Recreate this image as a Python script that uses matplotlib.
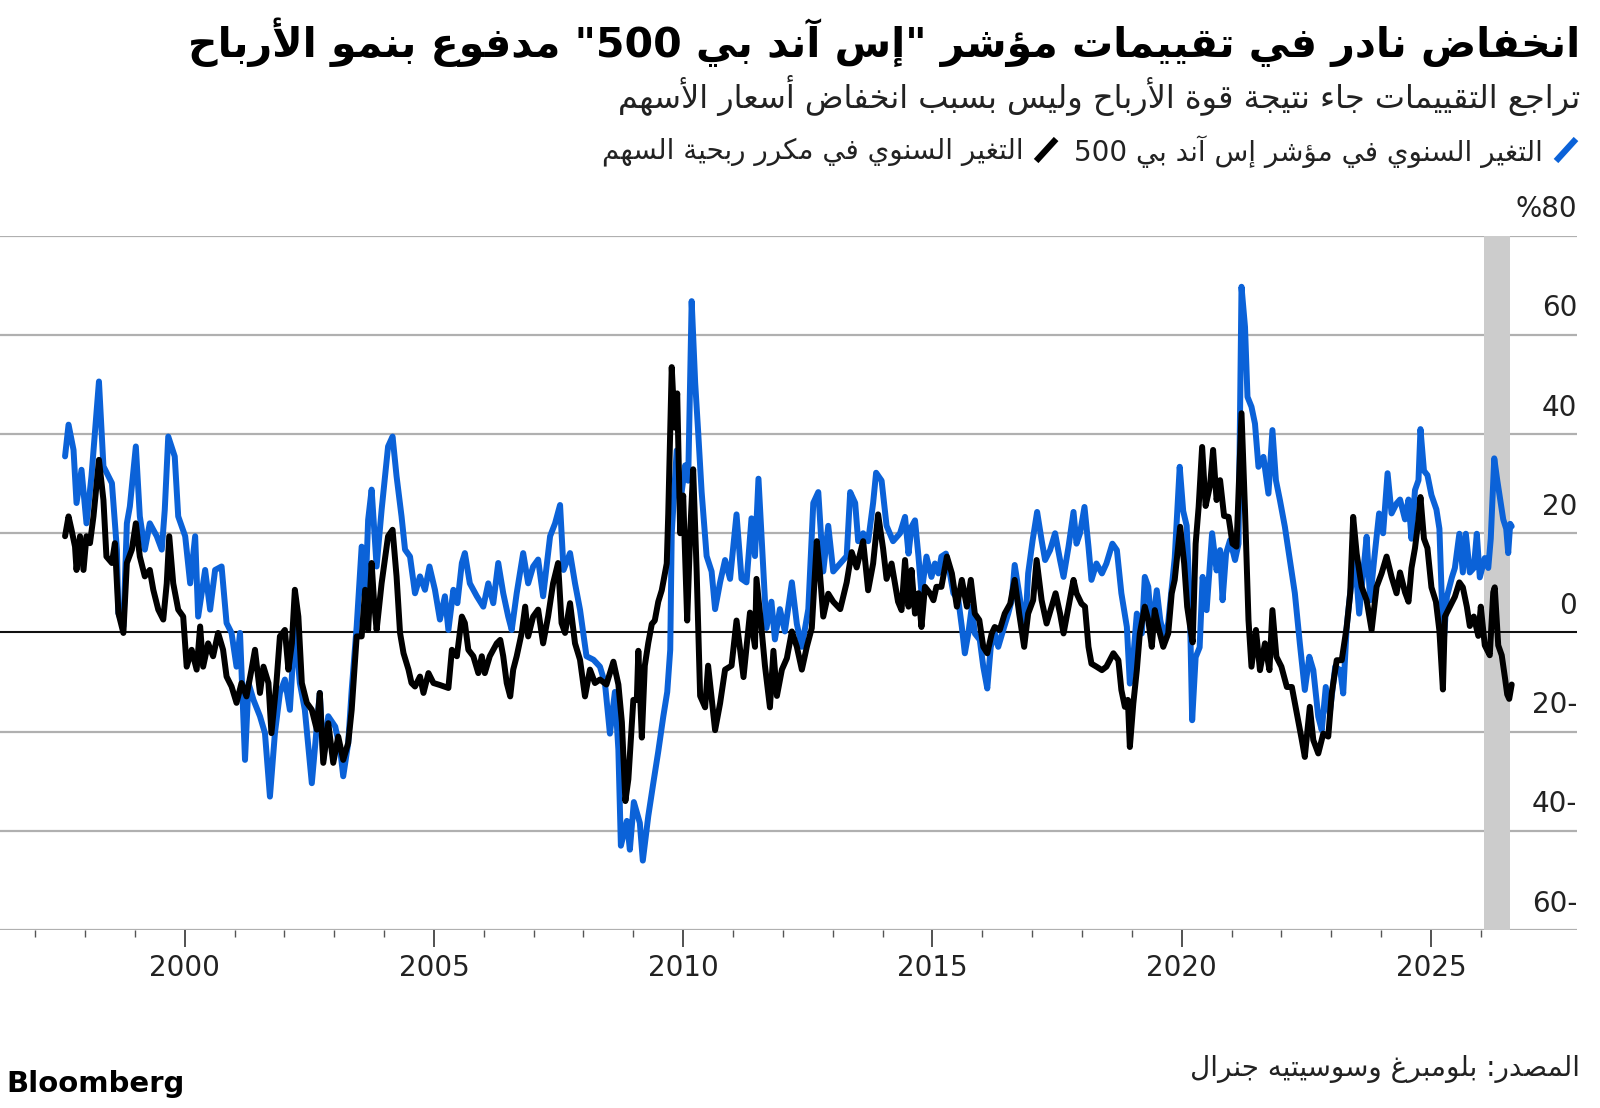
import matplotlib
matplotlib.use("Agg")
import matplotlib.pyplot as plt
from matplotlib.lines import Line2D

# ---- data ----
blue_x = [1997.60, 1997.67, 1997.77, 1997.83, 1997.93, 1998.03, 1998.13, 1998.28, 1998.37, 1998.54,
          1998.64, 1998.67, 1998.77, 1998.84, 1998.90, 1999.02, 1999.10, 1999.20, 1999.30, 1999.44,
          1999.54, 1999.60, 1999.67, 1999.80, 1999.87, 2000.01, 2000.11, 2000.21, 2000.27, 2000.41,
          2000.51, 2000.61, 2000.74, 2000.84, 2000.94, 2001.04, 2001.11, 2001.21, 2001.28, 2001.38,
          2001.51, 2001.61, 2001.71, 2001.81, 2001.91, 2002.01, 2002.11, 2002.21, 2002.31, 2002.41,
          2002.55, 2002.65, 2002.71, 2002.78, 2002.88, 2003.02, 2003.12, 2003.18, 2003.28, 2003.35,
          2003.45, 2003.55, 2003.62, 2003.68, 2003.75, 2003.85, 2003.95, 2004.08, 2004.17, 2004.25,
          2004.35, 2004.42, 2004.52, 2004.62, 2004.72, 2004.82, 2004.91, 2005.02, 2005.12, 2005.22,
          2005.29, 2005.39, 2005.47, 2005.56, 2005.62, 2005.72, 2005.86, 2005.99, 2006.09, 2006.19,
          2006.29, 2006.39, 2006.49, 2006.56, 2006.66, 2006.79, 2006.89, 2006.99, 2007.09, 2007.19,
          2007.33, 2007.43, 2007.53, 2007.60, 2007.73, 2007.83, 2007.93, 2008.06, 2008.20, 2008.33,
          2008.43, 2008.53, 2008.63, 2008.70, 2008.75, 2008.87, 2008.93, 2009.01, 2009.13, 2009.19,
          2009.30, 2009.40, 2009.50, 2009.60, 2009.68, 2009.74, 2009.77, 2009.87, 2009.94, 2010.04,
          2010.10, 2010.17, 2010.24, 2010.30, 2010.37, 2010.47, 2010.57, 2010.64, 2010.74, 2010.84,
          2010.94, 2011.07, 2011.17, 2011.27, 2011.37, 2011.44, 2011.51, 2011.61, 2011.67, 2011.77,
          2011.84, 2011.94, 2012.04, 2012.18, 2012.28, 2012.38, 2012.51, 2012.61, 2012.71, 2012.81,
          2012.91, 2013.01, 2013.15, 2013.28, 2013.35, 2013.45, 2013.51, 2013.61, 2013.71, 2013.81,
          2013.87, 2013.98, 2014.08, 2014.21, 2014.35, 2014.45, 2014.52, 2014.58, 2014.65, 2014.72,
          2014.78, 2014.88, 2014.98, 2015.05, 2015.12, 2015.18, 2015.27, 2015.35, 2015.42, 2015.52,
          2015.59, 2015.65, 2015.72, 2015.79, 2015.85, 2015.95, 2016.02, 2016.10, 2016.17, 2016.25,
          2016.32, 2016.42, 2016.52, 2016.59, 2016.65, 2016.76, 2016.86, 2016.92, 2017.01, 2017.10,
          2017.19, 2017.26, 2017.36, 2017.46, 2017.56, 2017.63, 2017.73, 2017.83, 2017.89, 2017.96,
          2018.05, 2018.13, 2018.19, 2018.29, 2018.40, 2018.49, 2018.61, 2018.70, 2018.79, 2018.90,
          2018.96, 2019.03, 2019.10, 2019.20, 2019.26, 2019.33, 2019.40, 2019.50, 2019.57, 2019.65,
          2019.73, 2019.80, 2019.86, 2019.96, 2020.03, 2020.10, 2020.16, 2020.21, 2020.28, 2020.36,
          2020.42, 2020.50, 2020.61, 2020.70, 2020.77, 2020.82, 2020.89, 2020.97, 2021.07, 2021.14,
          2021.20, 2021.27, 2021.32, 2021.40, 2021.47, 2021.54, 2021.64, 2021.74, 2021.82, 2021.89,
          2021.97, 2022.07, 2022.17, 2022.27, 2022.37, 2022.47, 2022.56, 2022.64, 2022.74, 2022.81,
          2022.89, 2022.97, 2023.08, 2023.18, 2023.24, 2023.31, 2023.38, 2023.48, 2023.56, 2023.64,
          2023.71, 2023.78, 2023.86, 2023.96, 2024.04, 2024.13, 2024.21, 2024.31, 2024.38, 2024.48,
          2024.55, 2024.61, 2024.68, 2024.75, 2024.79, 2024.86, 2024.93, 2025.01, 2025.11, 2025.17,
          2025.25, 2025.32, 2025.42, 2025.48, 2025.57, 2025.64, 2025.70, 2025.78, 2025.86, 2025.92,
          2025.98, 2026.08, 2026.15, 2026.20, 2026.27, 2026.33, 2026.39, 2026.45, 2026.51, 2026.55,
          2026.59, 2026.62]
blue_y = [35.5, 41.9, 36.8, 26.1, 32.8, 22.0, 31.5, 50.6, 33.5, 30.1,
          16.7, 3.9, 1.2, 22.0, 25.4, 37.5, 23.4, 16.7, 22.0, 19.4,
          16.7, 24.7, 39.5, 35.5, 23.4, 19.4, 9.9, 19.4, 3.2, 12.6,
          4.6, 12.6, 13.3, 1.9, -0.1, -6.9, -0.1, -25.7, -10.2, -13.6,
          -16.9, -20.3, -33.1, -20.3, -12.2, -9.5, -15.6, 1.2, -10.2, -15.6,
          -30.4, -19.0, -12.2, -25.7, -16.9, -19.0, -23.7, -29.0, -22.3, -11.6,
          1.2, 17.3, 5.9, 22.7, 28.8, 13.3, 24.7, 37.5, 39.5, 31.5,
          23.4, 16.7, 15.3, 7.9, 11.3, 8.6, 13.3, 8.6, 2.6, 7.3,
          0.5, 8.6, 5.9, 14.0, 16.0, 9.9, 7.3, 5.2, 9.9, 5.9,
          14.0, 7.9, 3.2, 0.5, 7.9, 16.0, 9.9, 13.3, 14.7, 7.3,
          19.4, 22.0, 25.7, 12.6, 16.0, 9.9, 4.6, -4.8, -5.5, -6.9,
          -10.2, -20.4, -12.0, -23.7, -43.0, -38.0, -43.8, -34.2, -38.4, -46.0,
          -37.0, -30.4, -24.0, -17.0, -12.0, -3.5, 20.0, 36.7, 26.1, 33.7,
          30.6, 66.8, 50.4, 40.5, 28.3, 15.4, 12.3, 4.7, 10.1, 14.6,
          10.8, 23.8, 10.8, 10.1, 23.0, 15.4, 31.0, 12.3, 0.9, 6.2,
          -1.4, 4.7, 0.2, 10.1, 1.7, -2.9, 4.7, 26.1, 28.3, 12.3,
          21.5, 12.3, 13.9, 15.4, 28.3, 26.1, 18.4, 20.0, 18.4, 26.1,
          32.2, 30.6, 21.5, 18.4, 20.0, 23.3, 15.9, 21.3, 22.6, 15.3,
          7.9, 15.3, 11.2, 13.9, 11.9, 15.3, 15.9, 11.9, 7.9, 6.5,
          1.1, -4.2, -0.2, 5.2, -0.2, -1.5, -6.9, -11.3, -2.9, -0.2,
          -2.9, 0.5, 3.8, 6.5, 13.6, 6.5, 0.5, 11.9, 18.6, 24.3,
          18.6, 14.6, 16.6, 20.0, 14.6, 11.2, 17.3, 24.3, 17.9, 20.0,
          25.3, 17.3, 10.6, 13.9, 11.9, 13.9, 17.9, 16.6, 7.9, 1.1,
          -10.3, -4.9, 3.8, -0.2, 11.2, 9.2, -0.2, 8.5, 2.5, -1.2,
          2.0, 9.0, 15.0, 33.4, 24.5, 21.5, 7.0, -17.7, -5.0, -3.0,
          11.2, 4.5, 20.0, 12.5, 16.6, 6.5, 15.9, 18.6, 14.6, 17.9,
          69.7, 61.6, 47.5, 45.5, 42.1, 33.4, 35.4, 28.0, 40.8, 30.7,
          26.7, 21.3, 14.6, 7.9, -2.2, -11.6, -4.9, -7.6, -17.0, -19.7,
          -11.0, -16.3, -6.9, -7.6, -12.3, 1.1, 7.9, 14.6, 3.8, 11.9,
          19.3, 6.5, 14.6, 24.0, 20.0, 32.1, 24.0, 26.0, 26.8, 22.8,
          26.8, 18.9, 28.7, 30.7, 41.0, 32.6, 31.7, 27.7, 24.8, 20.9,
          -2.6, 7.2, 11.1, 13.0, 19.9, 12.1, 19.9, 12.1, 13.0, 19.9,
          11.1, 15.0, 13.0, 18.9, 35.1, 30.7, 26.8, 22.8, 20.9, 16.0,
          21.9, 21.4]

black_x = [1997.60, 1997.67, 1997.73, 1997.80, 1997.83, 1997.90, 1997.97, 1998.03, 1998.10, 1998.17,
           1998.28, 1998.37, 1998.43, 1998.54, 1998.60, 1998.67, 1998.77, 1998.84, 1998.94, 1999.02,
           1999.10, 1999.20, 1999.30, 1999.37, 1999.47, 1999.57, 1999.64, 1999.69, 1999.77, 1999.87,
           1999.97, 2000.04, 2000.14, 2000.24, 2000.31, 2000.37, 2000.47, 2000.57, 2000.67, 2000.77,
           2000.84, 2000.94, 2001.04, 2001.14, 2001.24, 2001.34, 2001.41, 2001.51, 2001.58, 2001.68,
           2001.74, 2001.84, 2001.91, 2002.01, 2002.08, 2002.15, 2002.21, 2002.28, 2002.35, 2002.45,
           2002.55, 2002.65, 2002.71, 2002.78, 2002.88, 2002.98, 2003.08, 2003.18, 2003.28, 2003.35,
           2003.45, 2003.55, 2003.62, 2003.68, 2003.75, 2003.80, 2003.85, 2003.95, 2004.08, 2004.17,
           2004.25, 2004.32, 2004.39, 2004.49, 2004.55, 2004.62, 2004.72, 2004.79, 2004.89, 2004.99,
           2005.12, 2005.29, 2005.36, 2005.46, 2005.56, 2005.62, 2005.69, 2005.79, 2005.89, 2005.96,
           2006.02, 2006.12, 2006.26, 2006.33, 2006.39, 2006.46, 2006.53, 2006.59, 2006.66, 2006.76,
           2006.83, 2006.89, 2006.99, 2007.09, 2007.19, 2007.29, 2007.39, 2007.49, 2007.56, 2007.63,
           2007.73, 2007.83, 2007.93, 2008.03, 2008.13, 2008.23, 2008.33, 2008.46, 2008.60, 2008.70,
           2008.77, 2008.84, 2008.90, 2009.00, 2009.07, 2009.10, 2009.17, 2009.23, 2009.30, 2009.37,
           2009.43, 2009.50, 2009.57, 2009.67, 2009.70, 2009.77, 2009.83, 2009.88, 2009.94, 2010.00,
           2010.08, 2010.14, 2010.20, 2010.27, 2010.34, 2010.44, 2010.50, 2010.64, 2010.74, 2010.84,
           2010.97, 2011.07, 2011.21, 2011.34, 2011.44, 2011.47, 2011.57, 2011.64, 2011.74, 2011.81,
           2011.88, 2011.98, 2012.08, 2012.18, 2012.28, 2012.38, 2012.48, 2012.58, 2012.68, 2012.74,
           2012.81, 2012.91, 2013.01, 2013.15, 2013.28, 2013.38, 2013.48, 2013.61, 2013.71, 2013.81,
           2013.91, 2014.01, 2014.08, 2014.18, 2014.31, 2014.38, 2014.45, 2014.52, 2014.58, 2014.65,
           2014.72, 2014.78, 2014.85, 2014.95, 2015.02, 2015.08, 2015.18, 2015.29, 2015.39, 2015.49,
           2015.59, 2015.69, 2015.77, 2015.85, 2015.94, 2016.02, 2016.10, 2016.19, 2016.25, 2016.35,
           2016.45, 2016.56, 2016.65, 2016.74, 2016.84, 2016.92, 2017.02, 2017.09, 2017.19, 2017.29,
           2017.39, 2017.47, 2017.56, 2017.63, 2017.73, 2017.83, 2017.89, 2017.99, 2018.06, 2018.13,
           2018.19, 2018.29, 2018.40, 2018.49, 2018.63, 2018.73, 2018.79, 2018.86, 2018.92, 2018.96,
           2019.03, 2019.10, 2019.16, 2019.26, 2019.33, 2019.40, 2019.46, 2019.53, 2019.63, 2019.73,
           2019.80, 2019.86, 2019.97, 2020.05, 2020.11, 2020.17, 2020.22, 2020.28, 2020.34, 2020.41,
           2020.48, 2020.57, 2020.63, 2020.70, 2020.77, 2020.85, 2020.94, 2021.02, 2021.10, 2021.20,
           2021.27, 2021.34, 2021.40, 2021.49, 2021.57, 2021.67, 2021.76, 2021.82, 2021.90, 2022.00,
           2022.11, 2022.21, 2022.31, 2022.41, 2022.47, 2022.57, 2022.64, 2022.74, 2022.84, 2022.94,
           2023.01, 2023.11, 2023.21, 2023.31, 2023.38, 2023.44, 2023.51, 2023.61, 2023.71, 2023.81,
           2023.91, 2024.01, 2024.11, 2024.21, 2024.31, 2024.38, 2024.48, 2024.55, 2024.61, 2024.68,
           2024.75, 2024.79, 2024.86, 2024.93, 2025.01, 2025.10, 2025.17, 2025.24, 2025.28, 2025.38,
           2025.48, 2025.57, 2025.64, 2025.72, 2025.78, 2025.86, 2025.95, 2026.00, 2026.08, 2026.18,
           2026.25, 2026.28, 2026.35, 2026.42, 2026.49, 2026.53, 2026.57, 2026.62]
black_y = [19.4, 23.4, 20.7, 17.3, 12.6, 19.4, 12.6, 19.4, 18.0, 23.4,
           34.8, 26.7, 15.3, 14.0, 18.0, 3.9, -0.1, 14.0, 16.7, 22.0,
           15.3, 11.3, 12.6, 8.6, 4.6, 2.6, 9.9, 19.4, 9.9, 4.6,
           3.2, -6.9, -3.5, -7.5, 1.2, -6.9, -2.2, -4.8, -0.1, -3.5,
           -8.9, -10.9, -14.2, -10.2, -12.9, -7.5, -3.5, -12.2, -6.9, -10.2,
           -20.3, -10.2, -0.8, 0.5, -7.5, -2.2, 8.6, 3.2, -10.2, -14.2,
           -15.6, -19.6, -12.2, -26.3, -18.3, -26.3, -21.0, -25.7, -22.3, -15.6,
           -0.8, -0.8, 8.6, 0.5, 14.0, 6.0, 0.5, 9.9, 19.4, 20.7,
           11.3, -0.1, -4.2, -7.5, -10.2, -10.9, -8.9, -12.2, -8.2, -10.2,
           -10.6, -11.2, -3.5, -4.8, 3.2, 1.9, -3.5, -4.8, -8.2, -4.8,
           -8.2, -4.8, -2.2, -1.5, -4.8, -10.2, -12.9, -7.5, -4.8, -0.1,
           5.2, -0.8, 3.2, 4.6, -2.2, 3.2, 9.9, 14.0, 1.9, -0.1,
           5.9, -2.2, -5.5, -12.9, -7.5, -10.2, -9.5, -10.5, -5.9, -10.5,
           -18.1, -34.0, -29.6, -13.6, -13.6, -3.7, -21.2, -6.7, -2.1, 1.7,
           2.4, 6.2, 8.5, 13.9, 23.8, 53.5, 41.3, 48.2, 20.0, 27.6,
           2.4, 20.0, 32.9, 12.3, -12.8, -15.1, -6.7, -19.7, -14.3, -7.5,
           -6.7, 2.4, -9.0, 4.0, -2.9, 10.8, 0.9, -6.7, -15.1, -3.7,
           -12.8, -7.5, -5.2, 0.2, -2.9, -7.5, -2.9, 0.9, 18.4, 12.3,
           3.2, 7.8, 6.2, 4.7, 10.1, 16.2, 13.1, 18.4, 8.5, 13.9,
           23.8, 16.9, 10.8, 13.9, 6.2, 4.5, 14.6, 5.2, 12.6, 3.8,
           7.9, 1.1, 9.2, 7.9, 6.5, 9.2, 9.2, 15.3, 11.9, 5.2,
           10.6, 5.2, 10.6, 3.8, 2.5, -2.9, -4.2, -0.2, 1.1, 0.5,
           3.8, 5.8, 10.6, 3.8, -2.9, 3.8, 6.5, 14.6, 6.5, 1.8,
           5.2, 7.9, 3.8, -0.2, 5.2, 10.6, 7.9, 5.8, 5.2, -2.9,
           -6.3, -6.9, -7.6, -6.9, -4.2, -5.6, -11.6, -15.0, -13.6, -23.1,
           -14.3, -7.6, -0.2, 5.2, 2.5, -2.9, 4.5, 1.1, -2.9, -0.2,
           7.9, 10.6, 21.3, 13.9, 5.2, 1.1, -2.0, 17.9, 25.3, 37.4,
           25.5, 29.7, 36.8, 26.7, 30.7, 23.5, 23.3, 17.9, 17.3, 44.2,
           24.7, 2.5, -6.9, 0.5, -7.6, -2.2, -7.6, 4.5, -4.9, -6.9,
           -11.0, -11.0, -16.3, -21.7, -25.1, -15.0, -21.7, -24.4, -20.4, -21.0,
           -12.3, -5.6, -5.6, 1.1, 7.9, 23.3, 15.9, 9.2, 6.5, 0.5,
           9.2, 11.9, 15.3, 11.2, 7.9, 12.1, 8.1, 6.2, 13.0, 17.0,
           22.8, 27.3, 18.9, 17.0, 9.1, 6.2, 0.3, -11.5, 3.2, 5.2,
           7.2, 10.1, 9.1, 5.2, 1.3, 3.2, -0.7, 5.2, -2.6, -4.6,
           8.1, 9.1, -2.6, -4.6, -9.5, -12.5, -13.4, -10.5]

major_years = [2000, 2005, 2010, 2015, 2020, 2025]
minor_years = [y for y in range(1997, 2027) if y % 5 != 0]
y_levels = [80, 60, 40, 20, 0, -20, -40, -60]
y_labels = ["%80", "60", "40", "20", "0", "20-", "40-", "60-"]
shade = (2026.07, 2026.58)

title = 'انخفاض نادر في تقييمات مؤشر "إس آند بي 500" مدفوع بنمو الأرباح'
subtitle = "تراجع التقييمات جاء نتيجة قوة الأرباح وليس بسبب انخفاض أسعار الأسهم"
legend_blue = "التغير السنوي في مؤشر إس آند بي 500"
legend_black = "التغير السنوي في مكرر ربحية السهم"
source = "المصدر: بلومبرغ وسوسيتيه جنرال"

BLUE = "#0b62d8"


# ---- minimal arabic shaping (matplotlib has no bidi / joining) ----
LETTERS = {
    'ء': (0xFE80, 1), 'آ': (0xFE81, 2), 'أ': (0xFE83, 2), 'ؤ': (0xFE85, 2), 'إ': (0xFE87, 2),
    'ئ': (0xFE89, 4), 'ا': (0xFE8D, 2), 'ب': (0xFE8F, 4), 'ة': (0xFE93, 2), 'ت': (0xFE95, 4),
    'ث': (0xFE99, 4), 'ج': (0xFE9D, 4), 'ح': (0xFEA1, 4), 'خ': (0xFEA5, 4), 'د': (0xFEA9, 2),
    'ذ': (0xFEAB, 2), 'ر': (0xFEAD, 2), 'ز': (0xFEAF, 2), 'س': (0xFEB1, 4), 'ش': (0xFEB5, 4),
    'ص': (0xFEB9, 4), 'ض': (0xFEBD, 4), 'ط': (0xFEC1, 4), 'ظ': (0xFEC5, 4), 'ع': (0xFEC9, 4),
    'غ': (0xFECD, 4), 'ف': (0xFED1, 4), 'ق': (0xFED5, 4), 'ك': (0xFED9, 4), 'ل': (0xFEDD, 4),
    'م': (0xFEE1, 4), 'ن': (0xFEE5, 4), 'ه': (0xFEE9, 4), 'و': (0xFEED, 2), 'ى': (0xFEEF, 2),
    'ي': (0xFEF1, 4),
}
LAM_ALEF = {'آ': 0xFEF5, 'أ': 0xFEF7, 'إ': 0xFEF9, 'ا': 0xFEFB}


def joins_left(c):
    return c in LETTERS and LETTERS[c][1] == 4


def joins_right(c):
    return c in LETTERS and LETTERS[c][1] >= 2


def shape(s):
    out = []
    prev = None
    i = 0
    while i < len(s):
        c = s[i]
        if c not in LETTERS:
            out.append(c)
            prev = None
            i += 1
            continue
        p = prev is not None and joins_left(prev) and joins_right(c)
        if c == 'ل' and i + 1 < len(s) and s[i + 1] in LAM_ALEF:
            out.append(chr(LAM_ALEF[s[i + 1]] + (1 if p else 0)))
            prev = 'ا'
            i += 2
            continue
        nxt = s[i + 1] if i + 1 < len(s) else None
        n = joins_left(c) and nxt is not None and joins_right(nxt)
        base = LETTERS[c][0]
        if p and n:
            out.append(chr(base + 3))
        elif n:
            out.append(chr(base + 2))
        elif p:
            out.append(chr(base + 1))
        else:
            out.append(chr(base))
        prev = c
        i += 1
    return out


def rtl(s):
    units = []
    for ch in shape(s):
        ltr = ch.isascii() and (ch.isalnum() or ch in "%.")
        if ltr and units and units[-1][0]:
            units[-1][1] += ch
        else:
            units.append([ltr, ch])
    return "".join(u[1] for u in reversed(units))


plt.rcParams["font.family"] = ["DejaVu Sans"]

W, H = 1600, 1108
fig = plt.figure(figsize=(16, 11.08), dpi=100)
ax_top, ax_bot, ax_right = 235.7, 930.0, 1577.0
ax = fig.add_axes([0, 1 - ax_bot / H, ax_right / W, (ax_bot - ax_top) / H])
ax.set_xlim(1996.295, 2027.93)
ax.set_ylim(-60, 80)
for s in ax.spines.values():
    s.set_visible(False)

for v in y_levels:
    ax.axhline(v, color="#b0b0b0", lw=1.6, zorder=1)
ax.axvspan(shade[0], shade[1], color="#cccccc", lw=0, zorder=1.5)
ax.axhline(0, color="black", lw=1.3, zorder=2)

ax.plot(blue_x, blue_y, color=BLUE, lw=4.3, zorder=3,
        solid_joinstyle="round", solid_capstyle="round")
ax.plot(black_x, black_y, color="black", lw=4.3, zorder=4,
        solid_joinstyle="round", solid_capstyle="round")

ax.set_yticks([])
ax.set_xticks(major_years)
ax.set_xticklabels([str(y) for y in major_years])
ax.set_xticks(minor_years, minor=True)
ax.tick_params(axis="x", which="major", length=12, width=1.2, color="#333333",
               pad=5, labelsize=20, labelcolor="#222222")
ax.tick_params(axis="x", which="minor", length=5, width=1.0, color="#555555")

for v, lab in zip(y_levels, y_labels):
    ax.annotate(lab, xy=(1, v), xycoords=("axes fraction", "data"),
                xytext=(0, 9), textcoords="offset points",
                ha="right", va="bottom", fontsize=20, color="#222222")

# ---- header texts ----
rx = 1580 / W
fig.text(rx, 1 - 42 / H, rtl(title), ha="right", va="center",
         fontsize=29.5, fontweight="bold", color="black")
fig.text(rx, 1 - 95 / H, rtl(subtitle), ha="right", va="center",
         fontsize=23, color="#222222")

ly = 1 - 152 / H
fig.add_artist(Line2D([1556 / W, 1576 / W], [1 - 161 / H, 1 - 139 / H],
                      color=BLUE, lw=4.5, solid_capstyle="butt"))
t1 = fig.text(1543 / W, ly, rtl(legend_blue), ha="right", va="center",
              fontsize=20, color="#222222")
fig.canvas.draw()
bb = t1.get_window_extent()
sx1 = bb.x0 - 16
fig.add_artist(Line2D([(sx1 - 22) / W, (sx1 - 2) / W], [1 - 161 / H, 1 - 139 / H],
                      color="black", lw=4.5, solid_capstyle="butt"))
fig.text((sx1 - 34) / W, ly, rtl(legend_black), ha="right", va="center",
         fontsize=20, color="#222222")

# ---- footer ----
fig.text(rx, 1 - 1069 / H, rtl(source), ha="right", va="center",
         fontsize=20, color="#222222")
fig.text(6 / W, 1 - 1084 / H, "Bloomberg", ha="left", va="center",
         fontsize=21, fontweight="bold", color="black")

fig.savefig("out.png", dpi=100)
